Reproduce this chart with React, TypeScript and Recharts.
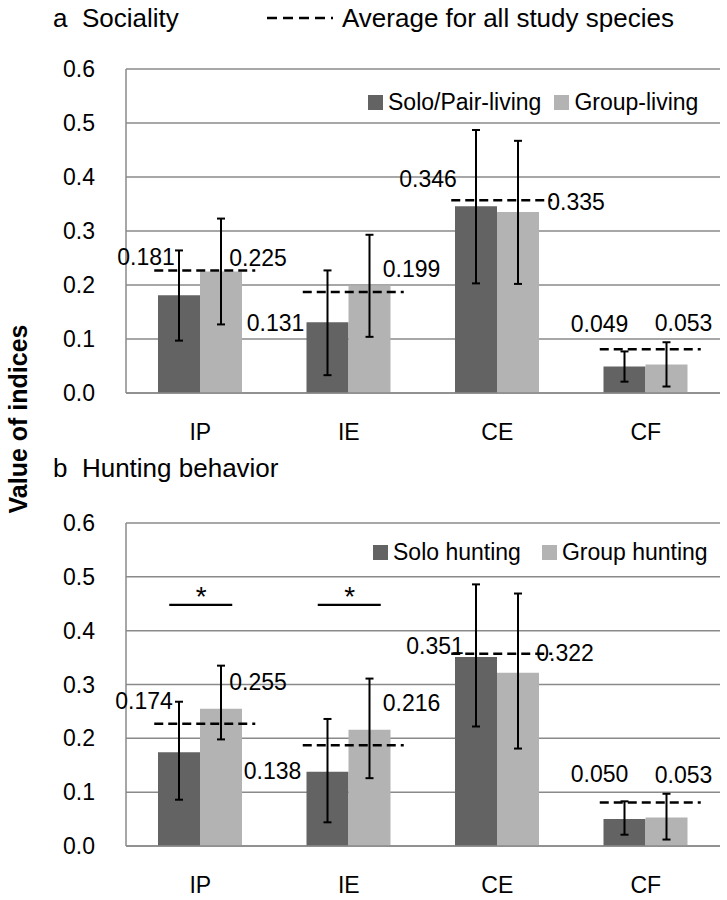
import React from "react";
import {
  ComposedChart,
  Bar,
  Line,
  XAxis,
  YAxis,
  CartesianGrid,
  ErrorBar,
  LabelList,
  Legend,
} from "recharts";

// ---- data ----
const categories = ["IP", "IE", "CE", "CF"];
const yTicks = [0, 0.1, 0.2, 0.3, 0.4, 0.5, 0.6];

// panel a: sociality
const soloLiving = [0.181, 0.131, 0.346, 0.049];
const groupLiving = [0.225, 0.199, 0.335, 0.053];
// [minus, plus]
const soloLivingErr = [[0.084, 0.083], [0.098, 0.096], [0.143, 0.141], [0.028, 0.028]];
const groupLivingErr = [[0.098, 0.098], [0.095, 0.094], [0.133, 0.132], [0.041, 0.041]];

// panel b: hunting behaviour
const soloHunting = [0.174, 0.138, 0.351, 0.05];
const groupHunting = [0.255, 0.216, 0.322, 0.053];
const soloHuntingErr = [[0.088, 0.094], [0.094, 0.098], [0.129, 0.135], [0.029, 0.033]];
const groupHuntingErr = [[0.057, 0.08], [0.09, 0.095], [0.141, 0.147], [0.041, 0.044]];
const huntingSignificance = [0.448, 0.448, null, null];

// average for all study species (same in both panels)
const speciesAverage = [0.227, 0.187, 0.357, 0.081];

// ---- label nudges (px, relative to bar top centre) ----
const soloLivingShift = [[-33, -38], [-52, 1], [-48, -27], [-25, -43]];
const groupLivingShift = [[37, -14], [42, -17], [58, -10], [17, -41]];
const soloHuntingShift = [[-35, -51], [-55, -1], [-41, -11], [-25, -45]];
const groupHuntingShift = [[37, -27], [42, -27], [47, -20], [17, -43]];

const DARK = "#636363";
const LIGHT = "#b3b3b3";
const GRID = "#8a8a8a";
const FONT = "'Liberation Sans', Arial, sans-serif";

const livingData = categories.map((cat, i) => ({
  cat,
  solo: soloLiving[i],
  group: groupLiving[i],
  soloErr: soloLivingErr[i],
  groupErr: groupLivingErr[i],
  avg: speciesAverage[i],
}));

const huntingData = categories.map((cat, i) => ({
  cat,
  solo: soloHunting[i],
  group: groupHunting[i],
  soloErr: soloHuntingErr[i],
  groupErr: groupHuntingErr[i],
  avg: speciesAverage[i],
  sig: huntingSignificance[i],
}));

const valueLabel = (shifts: number[][], values: number[]) => (props: any) => {
  const { x, y, width, value } = props;
  let idx = props.index;
  if (idx == null) idx = values.indexOf(value);
  const [dx, dy] = shifts[idx] || [0, -12];
  return (
    <text
      x={Number(x) + Number(width) / 2 + dx}
      y={Number(y) + dy}
      dy="0.35em"
      textAnchor="middle"
      fontSize={23}
      fill="#000"
    >
      {Number(value).toFixed(3)}
    </text>
  );
};

const avgDash = (props: any) => {
  const { cx, cy, index } = props;
  if (cx == null || cy == null) return <g key={`a${index}`} />;
  return (
    <line
      key={`a${index}`}
      x1={cx - 46}
      x2={cx + 55}
      y1={cy}
      y2={cy}
      stroke="#000"
      strokeWidth={2.5}
      strokeDasharray="9 5"
    />
  );
};

const sigMark = (props: any) => {
  const { cx, cy, index, value } = props;
  if (cx == null || cy == null || value == null || Number.isNaN(cy))
    return <g key={`s${index}`} />;
  return (
    <g key={`s${index}`}>
      <line x1={cx - 31} x2={cx + 32} y1={cy} y2={cy} stroke="#000" strokeWidth={2.2} />
      <text x={cx + 1} y={cy + 1} textAnchor="middle" fontSize={28} fill="#000">
        *
      </text>
    </g>
  );
};

interface PanelProps {
  data: any[];
  top: number;
  height: number;
  marginTop: number;
  axisHeight: number;
  soloName: string;
  groupName: string;
  soloShift: number[][];
  groupShift: number[][];
  soloValues: number[];
  groupValues: number[];
  legendLeft: number;
  legendGap: number;
  showSig?: boolean;
}

function Panel(p: PanelProps) {
  const legendItems = [
    { name: p.soloName, color: DARK },
    { name: p.groupName, color: LIGHT },
  ];
  return (
    <div style={{ position: "absolute", left: 0, top: p.top }}>
      <ComposedChart
        width={727}
        height={p.height}
        data={p.data}
        margin={{ top: p.marginTop, right: 7, bottom: 0, left: 30 }}
        barCategoryGap={32}
        barGap={0}
      >
        <CartesianGrid vertical={false} stroke={GRID} strokeWidth={1.5} />
        <XAxis
          dataKey="cat"
          interval={0}
          height={p.axisHeight}
          tickLine={false}
          tickSize={0}
          tickMargin={31}
          axisLine={{ stroke: GRID, strokeWidth: 1.5 }}
          tick={{ fontSize: 23, fill: "#000" }}
        />
        <YAxis
          type="number"
          domain={[0, 0.6]}
          ticks={yTicks}
          width={96}
          tickLine={false}
          tickSize={0}
          tickMargin={31}
          axisLine={{ stroke: GRID, strokeWidth: 1.5 }}
          tick={{ fontSize: 23, fill: "#000" }}
          tickFormatter={(v) => Number(v).toFixed(1)}
        />
        <Legend
          layout="horizontal"
          verticalAlign="middle"
          align="center"
          wrapperStyle={{ top: 89, left: p.legendLeft, width: "auto" }}
          content={() => (
            <div
              style={{
                display: "flex",
                alignItems: "center",
                height: 26,
                fontSize: 23,
                lineHeight: "26px",
                whiteSpace: "nowrap",
              }}
            >
              {legendItems.map((it, i) => (
                <div
                  key={it.name}
                  style={{
                    display: "flex",
                    alignItems: "center",
                    marginRight: i === 0 ? p.legendGap : 0,
                  }}
                >
                  <span
                    style={{
                      display: "inline-block",
                      width: 15,
                      height: 15,
                      background: it.color,
                      marginRight: 5,
                    }}
                  />
                  <span>{it.name}</span>
                </div>
              ))}
            </div>
          )}
        />
        <Bar dataKey="solo" fill={DARK} isAnimationActive={false}>
          <ErrorBar dataKey="soloErr" direction="y" width={4} stroke="#000" strokeWidth={2} />
          <LabelList dataKey="solo" content={valueLabel(p.soloShift, p.soloValues)} />
        </Bar>
        <Bar dataKey="group" fill={LIGHT} isAnimationActive={false}>
          <ErrorBar dataKey="groupErr" direction="y" width={4} stroke="#000" strokeWidth={2} />
          <LabelList dataKey="group" content={valueLabel(p.groupShift, p.groupValues)} />
        </Bar>
        <Line
          dataKey="avg"
          stroke="none"
          dot={avgDash}
          activeDot={false}
          legendType="none"
          isAnimationActive={false}
        />
        {p.showSig && (
          <Line
            dataKey="sig"
            stroke="none"
            dot={sigMark}
            activeDot={false}
            legendType="none"
            isAnimationActive={false}
          />
        )}
      </ComposedChart>
    </div>
  );
}

export default function App() {
  return (
    <div
      style={{
        position: "relative",
        width: 727,
        height: 900,
        background: "#fff",
        fontFamily: FONT,
        color: "#000",
      }}
    >
      <style>{`body{margin:0;}`}</style>
      <Panel
        data={livingData}
        top={0}
        height={450}
        marginTop={69}
        axisHeight={57}
        soloName="Solo/Pair-living"
        groupName="Group-living"
        soloShift={soloLivingShift}
        groupShift={groupLivingShift}
        soloValues={soloLiving}
        groupValues={groupLiving}
        legendLeft={368}
        legendGap={13}
      />
      <Panel
        data={huntingData}
        top={450}
        height={450}
        marginTop={73}
        axisHeight={54}
        soloName="Solo hunting"
        groupName="Group hunting"
        soloShift={soloHuntingShift}
        groupShift={groupHuntingShift}
        soloValues={soloHunting}
        groupValues={groupHunting}
        legendLeft={373}
        legendGap={21}
        showSig
      />
      <svg
        width={727}
        height={900}
        style={{ position: "absolute", left: 0, top: 0, pointerEvents: "none" }}
      >
        <text x={53} y={27} fontSize={26} fill="#000" style={{ whiteSpace: "pre" }}>
          {"a  Sociality"}
        </text>
        <line
          x1={267}
          x2={333}
          y1={18}
          y2={18}
          stroke="#000"
          strokeWidth={2.5}
          strokeDasharray="10 6"
        />
        <text x={342} y={27} fontSize={26} fill="#000">
          Average for all study species
        </text>
        <text x={53} y={477} fontSize={26} fill="#000" style={{ whiteSpace: "pre" }}>
          {"b  Hunting behavior"}
        </text>
        <text
          x={0}
          y={0}
          transform="translate(27 419) rotate(-90)"
          textAnchor="middle"
          fontSize={25}
          fontWeight="bold"
          fill="#000"
        >
          Value of indices
        </text>
      </svg>
    </div>
  );
}
